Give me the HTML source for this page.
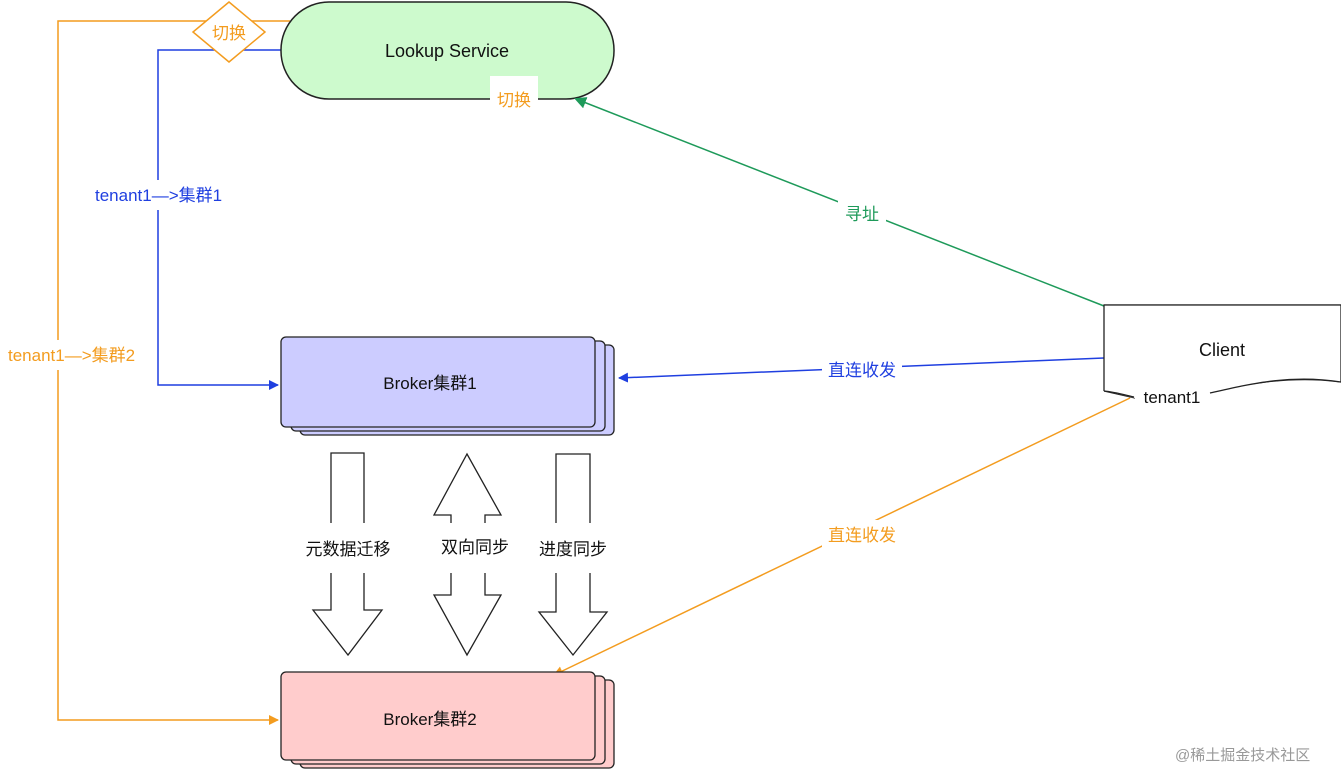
<!DOCTYPE html>
<html><head><meta charset="utf-8"><style>
html,body{margin:0;padding:0;background:#fff;}
svg text{font-family:"Liberation Sans","Noto Sans CJK SC",sans-serif;}
</style></head><body>
<svg width="1341" height="772" viewBox="0 0 1341 772" xmlns="http://www.w3.org/2000/svg">
<defs>
<marker id="ab" markerWidth="10" markerHeight="10" refX="9" refY="5" orient="auto" markerUnits="userSpaceOnUse"><path d="M0,0 L10,5 L0,10 Z" fill="#1f3fe0"/></marker>
<marker id="ao" markerWidth="10" markerHeight="10" refX="9" refY="5" orient="auto" markerUnits="userSpaceOnUse"><path d="M0,0 L10,5 L0,10 Z" fill="#f39c1f"/></marker>
<marker id="ag" markerWidth="12" markerHeight="12" refX="10" refY="6" orient="auto" markerUnits="userSpaceOnUse"><path d="M0,0 L12,6 L0,12 Z" fill="#1e9a5a"/></marker>
</defs>
<!-- orange left path -->
<polyline points="290,21 58,21 58,720 278,720" fill="none" stroke="#f39c1f" stroke-width="1.5" marker-end="url(#ao)"/>
<!-- blue path -->
<polyline points="282,50 158,50 158,385 278,385" fill="none" stroke="#1f3fe0" stroke-width="1.5" marker-end="url(#ab)"/>
<rect x="90" y="180" width="140" height="30" fill="#fff"/>
<text x="95" y="201" font-size="17" fill="#1f3fe0">tenant1—&gt;集群1</text>
<rect x="4" y="340" width="140" height="30" fill="#fff"/>
<text x="8" y="361" font-size="17" fill="#f39c1f">tenant1—&gt;集群2</text>
<!-- diamond -->
<polygon points="229,2 265,32 229,62 193,32" fill="#fff" stroke="#f39c1f" stroke-width="1.5"/>
<text x="229" y="39" font-size="17" fill="#f39c1f" text-anchor="middle">切换</text>
<!-- lookup -->
<rect x="281" y="2" width="333" height="97" rx="48" fill="#cdfacd" stroke="#222" stroke-width="1.5"/>
<text x="447" y="57" font-size="18" fill="#111" text-anchor="middle">Lookup Service</text>
<rect x="490" y="76" width="48" height="35" fill="#fff"/>
<text x="514" y="106" font-size="17" fill="#f39c1f" text-anchor="middle">切换</text>
<!-- green line -->
<line x1="1104" y1="306" x2="576" y2="99" stroke="#1e9a5a" stroke-width="1.5" marker-end="url(#ag)"/>
<rect x="838" y="200" width="48" height="28" fill="#fff"/>
<text x="862" y="220" font-size="17" fill="#1e9a5a" text-anchor="middle">寻址</text>
<!-- blue direct -->
<line x1="1104" y1="358" x2="619" y2="378" stroke="#1f3fe0" stroke-width="1.5" marker-end="url(#ab)"/>
<rect x="822" y="356" width="80" height="28" fill="#fff"/>
<text x="862" y="376" font-size="17" fill="#1f3fe0" text-anchor="middle">直连收发</text>
<!-- orange direct -->
<line x1="1130" y1="398" x2="554" y2="675" stroke="#f39c1f" stroke-width="1.5" marker-end="url(#ao)"/>
<rect x="822" y="520" width="80" height="28" fill="#fff"/>
<text x="862" y="541" font-size="17" fill="#f39c1f" text-anchor="middle">直连收发</text>
<!-- broker1 -->
<rect x="300" y="345" width="314" height="90" rx="5" fill="#ccccff" stroke="#222" stroke-width="1.3"/>
<rect x="291" y="341" width="314" height="90" rx="5" fill="#ccccff" stroke="#222" stroke-width="1.3"/>
<rect x="281" y="337" width="314" height="90" rx="5" fill="#ccccff" stroke="#222" stroke-width="1.3"/>
<text x="430" y="389" font-size="17" fill="#111" text-anchor="middle">Broker集群1</text>
<!-- broker2 -->
<rect x="300" y="680" width="314" height="88" rx="5" fill="#ffcccc" stroke="#222" stroke-width="1.3"/>
<rect x="291" y="676" width="314" height="88" rx="5" fill="#ffcccc" stroke="#222" stroke-width="1.3"/>
<rect x="281" y="672" width="314" height="88" rx="5" fill="#ffcccc" stroke="#222" stroke-width="1.3"/>
<text x="430" y="725" font-size="17" fill="#111" text-anchor="middle">Broker集群2</text>
<!-- block arrows -->
<g fill="none" stroke="#222" stroke-width="1.3">
<polyline points="331,523 331,453 364,453 364,523"/>
<polyline points="331,573 331,610 313,610 348,655 382,610 364,610 364,573"/>
<polyline points="451,523 451,515 434,515 467,454 501,515 485,515 485,523"/>
<polyline points="451,573 451,595 434,595 467,655 501,595 485,595 485,573"/>
<polyline points="556,523 556,454 590,454 590,523"/>
<polyline points="556,573 556,612 539,612 573,655 607,612 590,612 590,573"/>
</g>
<text x="348" y="555" font-size="17" fill="#111" text-anchor="middle">元数据迁移</text>
<text x="475" y="553" font-size="17" fill="#111" text-anchor="middle">双向同步</text>
<text x="573" y="555" font-size="17" fill="#111" text-anchor="middle">进度同步</text>
<!-- client -->
<path d="M1104,305 L1341,305 L1341,382 C1290,375 1240,385 1210,392 M1135,398 C1120,394 1110,392 1104,391 Z" fill="#fff" stroke="#222" stroke-width="1.3"/>
<path d="M1104,305 L1341,305 L1341,382 C1290,374 1250,384 1200,396 L1135,398 C1120,394 1110,392 1104,391 Z" fill="#fff" stroke="none"/>
<path d="M1104,391 L1104,305 L1341,305 L1341,382" fill="none" stroke="#222" stroke-width="1.3"/>
<path d="M1341,382 C1290,374 1250,384 1210,393" fill="none" stroke="#222" stroke-width="1.3"/>
<path d="M1104,391 C1115,392 1125,395 1134,397" fill="none" stroke="#222" stroke-width="1.3"/>
<text x="1222" y="356" font-size="18" fill="#111" text-anchor="middle">Client</text>
<text x="1172" y="403" font-size="17" fill="#111" text-anchor="middle">tenant1</text>
<text x="1175" y="760" font-size="15" fill="#999">@稀土掘金技术社区</text>
</svg>
</body></html>
